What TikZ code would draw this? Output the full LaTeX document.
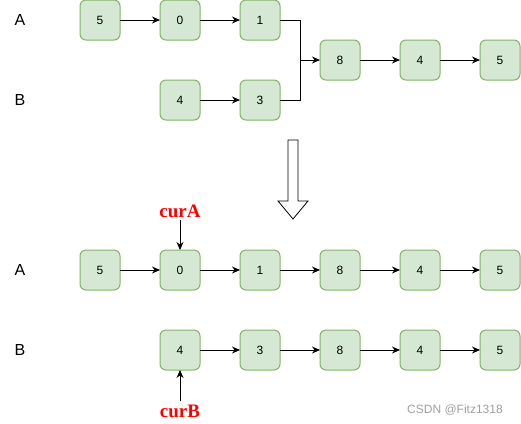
\documentclass[tikz,border=0pt]{standalone}
\usepackage{fontspec}
\setmainfont{Liberation Sans}
\newfontfamily\ptrfont{Liberation Serif}
\usetikzlibrary{arrows.meta, positioning}
\definecolor{CellFill}{RGB}{213,232,212}
\definecolor{CellEdge}{RGB}{130,179,102}
\definecolor{PtrRed}{RGB}{255,0,0}

\begin{document}
\begin{tikzpicture}[
  x=1pt, y=1pt,
  cell/.style={draw=CellEdge, fill=CellFill, rounded corners=6pt,
               minimum width=40pt, minimum height=40pt, line width=1pt,
               outer sep=0pt, font=\fontsize{12}{14}\selectfont},
  rowlab/.style={font=\fontsize{16}{18}\selectfont},
  ptr/.style={text=PtrRed, inner sep=3pt,
              font=\ptrfont\bfseries\fontsize{19}{21}\selectfont},
  arr/.style={-{Stealth[length=8pt, width=7pt]}, line width=1pt},
]
\useasboundingbox (0,0) rectangle (521,-423);

% before
\node[rowlab] (labA) at (20,-20) {A};
\node[rowlab] (labB) at (20,-100) {B};
\node[cell] (a5) at (100,-20) {5};
\node[cell, right=40pt of a5] (a0) {0};
\node[cell, right=40pt of a0] (a1) {1};
\node[cell] (b4) at (180,-100) {4};
\node[cell, right=40pt of b4] (b3) {3};
\node[cell] (m8) at (340,-60) {8};
\node[cell, right=40pt of m8] (m4) {4};
\node[cell, right=40pt of m4] (m5) {5};
\coordinate (join) at (300,-60);

\draw[arr] (a5) -- (a0);
\draw[arr] (a0) -- (a1);
\draw[arr] (b4) -- (b3);
\draw[line width=1pt] (a1) -| (join);
\draw[line width=1pt] (b3) -| (join);
\draw[arr] (join) -- (m8);
\draw[arr] (m8) -- (m4);
\draw[arr] (m4) -- (m5);

% hollow arrow
\draw[line width=0.8pt, fill=white] (288,-140) -- (298,-140) -- (298,-201)
  -- (308,-201) -- (293,-219) -- (278,-201) -- (288,-201) -- cycle;

% after
\node[rowlab] (labA2) at (20,-270) {A};
\node[rowlab] (labB2) at (20,-350) {B};
\node[cell] (ca5) at (100,-270) {5};
\node[cell, right=40pt of ca5] (ca0) {0};
\node[cell, right=40pt of ca0] (ca1) {1};
\node[cell, right=40pt of ca1] (ca8) {8};
\node[cell, right=40pt of ca8] (ca4) {4};
\node[cell, right=40pt of ca4] (ca5b) {5};
\node[cell] (cb4) at (180,-350) {4};
\node[cell, right=40pt of cb4] (cb3) {3};
\node[cell, right=40pt of cb3] (cb8) {8};
\node[cell, right=40pt of cb8] (cb4b) {4};
\node[cell, right=40pt of cb4b] (cb5) {5};

\draw[arr] (ca5) -- (ca0);
\draw[arr] (ca0) -- (ca1);
\draw[arr] (ca1) -- (ca8);
\draw[arr] (ca8) -- (ca4);
\draw[arr] (ca4) -- (ca5b);
\draw[arr] (cb4) -- (cb3);
\draw[arr] (cb3) -- (cb8);
\draw[arr] (cb8) -- (cb4b);
\draw[arr] (cb4b) -- (cb5);

% pointers
\node[ptr, anchor=base] (curA) at (180,-217) {curA};
\node[ptr, anchor=base] (curB) at (180,-417) {curB};
\draw[arr] (curA) -- (ca0);
\draw[arr] (curB) -- (cb4);

\node[text=gray!75, font=\fontsize{12}{14}\selectfont] (mark) at (455,-410) {CSDN @Fitz1318};
\end{tikzpicture}
\end{document}
